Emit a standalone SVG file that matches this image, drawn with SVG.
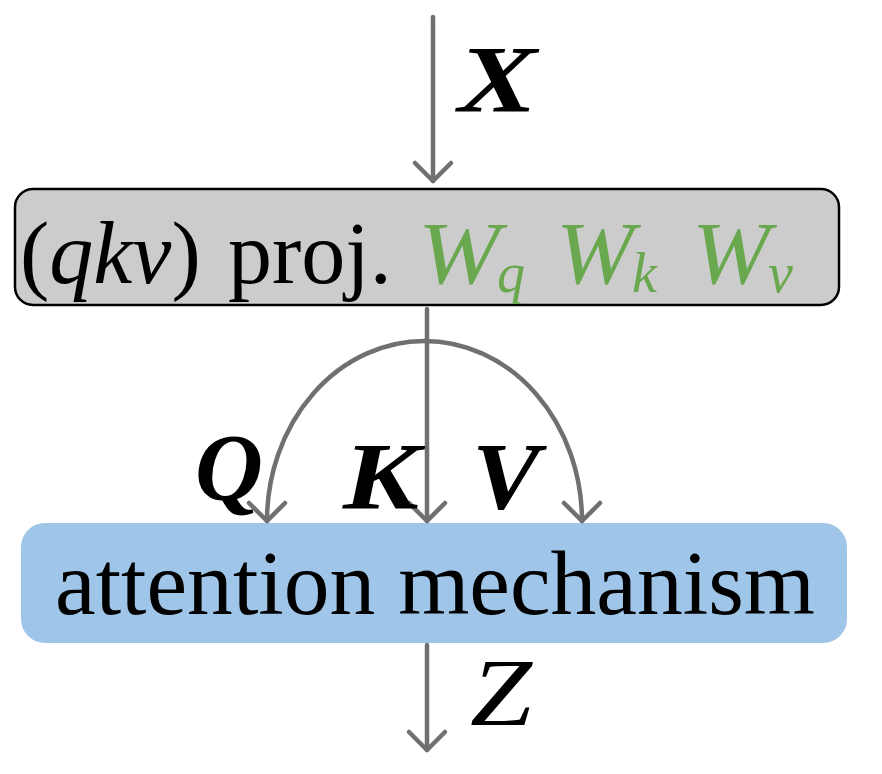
<svg xmlns="http://www.w3.org/2000/svg" width="882" height="774" viewBox="0 0 882 774">
<style>
.lbl{font-family:"Liberation Serif","Times New Roman",serif;fill:#000}
.it{font-style:italic}
.bf{font-weight:bold}
.g{fill:#6aa84f;font-style:italic}
.conn{fill:none;stroke:#707070;stroke-width:4.5;stroke-linecap:round}
</style>
<defs>
<marker id="ah" markerUnits="userSpaceOnUse" markerWidth="40" markerHeight="40" viewBox="-20 -20 40 40" refX="0" refY="0" orient="auto" overflow="visible">
<path d="M-18,-18 L0,0 L-18,18" fill="none" stroke="#707070" stroke-width="4.5" stroke-linecap="round" stroke-linejoin="round"/>
</marker>
</defs>
<rect width="882" height="774" fill="#ffffff"/>
<g id="proj">
<rect x="15" y="189" width="824" height="116" rx="18" ry="18" fill="#cccccc" stroke="#000" stroke-width="2.5"/>
<text class="lbl" font-size="88" y="283"><tspan x="20">(</tspan><tspan class="it">qkv</tspan><tspan>)</tspan><tspan x="228">proj.</tspan></text>
<text class="lbl g" font-size="88" y="283" x="418" textLength="82" lengthAdjust="spacingAndGlyphs">W</text>
<text class="lbl g" font-size="56" y="292" x="497">q</text>
<text class="lbl g" font-size="88" y="283" x="556" textLength="78" lengthAdjust="spacingAndGlyphs">W</text>
<text class="lbl g" font-size="56" y="292" x="632">k</text>
<text class="lbl g" font-size="88" y="283" x="692" textLength="78" lengthAdjust="spacingAndGlyphs">W</text>
<text class="lbl g" font-size="56" y="292" x="768">v</text>
</g>
<g id="attention">
<rect x="21" y="523" width="826" height="120" rx="24" ry="24" fill="#9fc5e8"/>
<text class="lbl" font-size="91" x="55" y="614" textLength="760" lengthAdjust="spacingAndGlyphs">attention mechanism</text>
</g>
<g id="connectors">
<path class="conn" d="M433,17 L433,181" marker-end="url(#ah)"/>
<path class="conn" d="M427,309 L427,521" marker-end="url(#ah)"/>
<path class="conn" d="M424.5,341 A157.5,180 0 0 0 267,521" marker-end="url(#ah)"/>
<path class="conn" d="M424.5,341 A157.5,180 0 0 1 582,521" marker-end="url(#ah)"/>
<path class="conn" d="M427,645 L427,750" marker-end="url(#ah)"/>
</g>
<g id="labels">
<text class="lbl it bf" font-size="96" x="458" y="112" textLength="79" lengthAdjust="spacingAndGlyphs">X</text>
<text class="lbl it bf" font-size="96" x="195" y="500" textLength="68" lengthAdjust="spacingAndGlyphs">Q</text>
<text class="lbl it bf" font-size="96" x="343" y="509" textLength="76" lengthAdjust="spacingAndGlyphs">K</text>
<text class="lbl it bf" font-size="96" x="472" y="509" textLength="68" lengthAdjust="spacingAndGlyphs">V</text>
<text class="lbl it" font-size="96" x="470" y="725" textLength="62" lengthAdjust="spacingAndGlyphs">Z</text>
</g>
</svg>
